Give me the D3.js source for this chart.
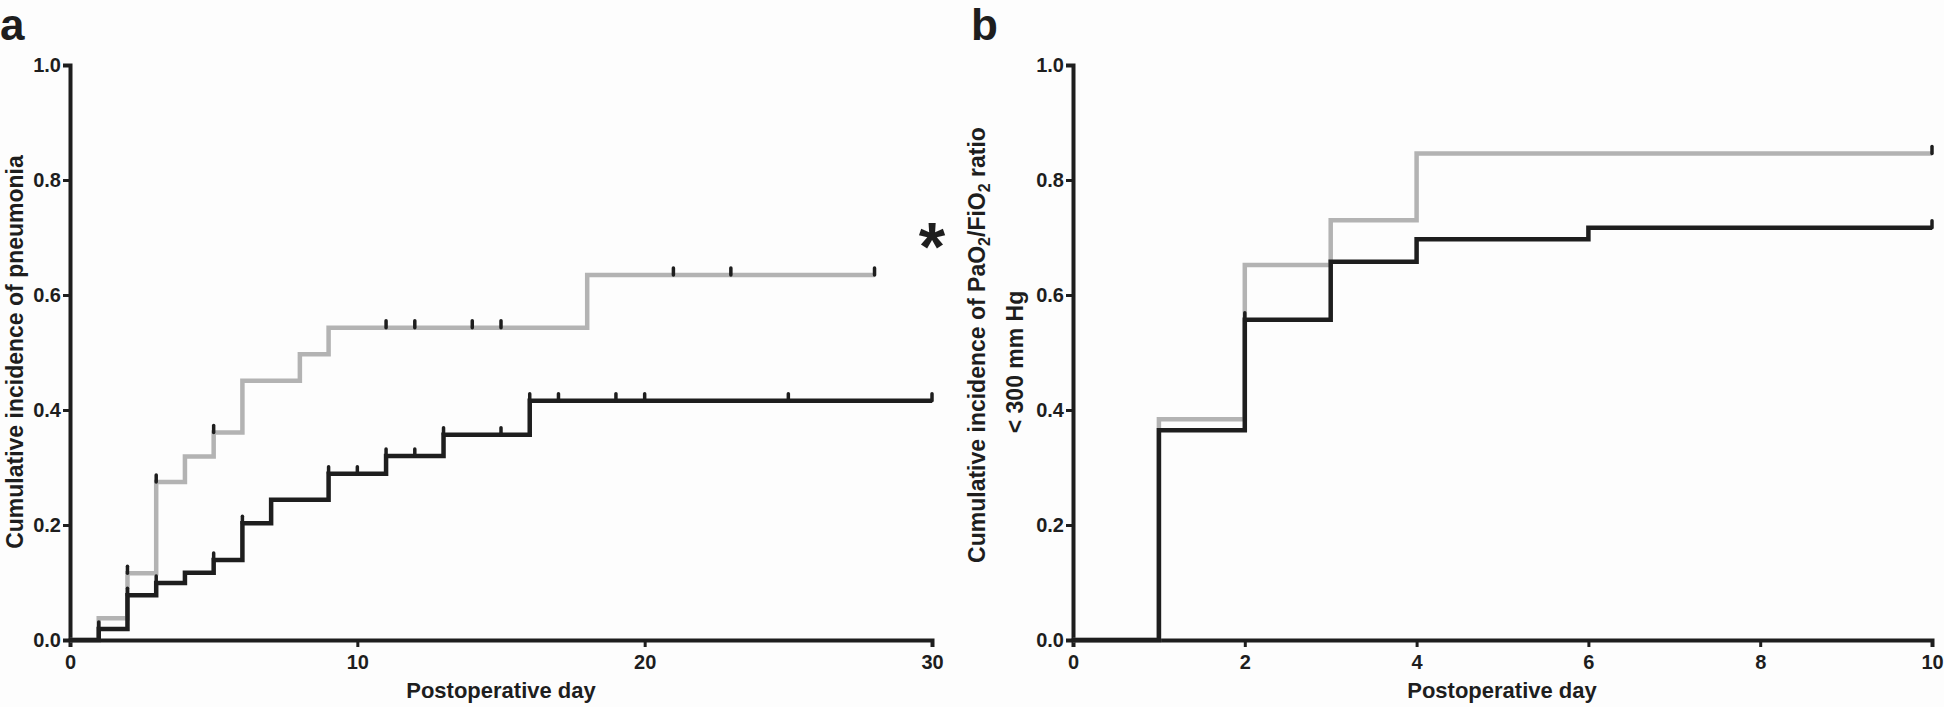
<!DOCTYPE html>
<html>
<head>
<meta charset="utf-8">
<script src="https://cdn.jsdelivr.net/npm/d3@7"></script>
<style>
  body { margin: 0; background: #fdfdfd; }
  svg { display: block; font-family: "Liberation Sans", Arial, sans-serif; }
</style>
</head>
<body>
<div class="chart"></div>
<script>
// panel a: cumulative incidence of pneumonia (step changes, day -> value)
var pneuBlackDays = [0, 1, 2, 3, 4, 5, 6, 7, 9, 11, 13, 16];
var pneuBlackVals = [0, 0.019, 0.078, 0.099, 0.117, 0.139, 0.203, 0.244, 0.289, 0.32, 0.357, 0.416];
var pneuBlackCensor = [1, 2, 3, 5, 6, 9, 10, 11, 12, 13, 15, 16, 17, 19, 20, 25, 30];

var pneuGrayDays = [0, 1, 2, 3, 4, 5, 6, 8, 9, 18];
var pneuGrayVals = [0, 0.038, 0.116, 0.275, 0.319, 0.361, 0.451, 0.497, 0.543, 0.635];
var pneuGrayCensor = [2, 3, 5, 11, 12, 14, 15, 21, 23, 28];

// panel b: PaO2/FiO2 ratio < 300 mm Hg
var pfBlackDays = [0, 1, 2, 3, 4, 6];
var pfBlackVals = [0, 0.365, 0.557, 0.658, 0.697, 0.717];
var pfBlackCensor = [2, 10];

var pfGrayDays = [0, 1, 2, 3, 4];
var pfGrayVals = [0, 0.384, 0.652, 0.730, 0.846];
var pfGrayCensor = [10];

var yTicks = [0, 0.2, 0.4, 0.6, 0.8, 1.0];
var xTicksA = [0, 10, 20, 30];
var xTicksB = [0, 2, 4, 6, 8, 10];

var BLACK = "#1e1e1e", GRAY = "#b3b3b3";

var svg = d3.select(".chart").append("svg")
	.attr("width", 1944).attr("height", 707);

var y = d3.scaleLinear().domain([0, 1]).range([640, 65]);

//value of a step curve at a given day
function valueAt(days, vals, d) {
	var i = d3.bisectRight(days, d) - 1;
	return vals[Math.max(0, i)];
}

function drawPanel(x, ticks, series) {
	var g = svg.append("g");

	var xAxis = d3.axisBottom(x).tickValues(ticks).tickSizeOuter(0).tickSize(7).tickPadding(8);
	var yAxis = d3.axisLeft(y).tickValues(yTicks).tickSizeOuter(0).tickSize(7).tickPadding(2)
		.tickFormat(d3.format(".1f"));

	var gx = g.append("g").attr("transform", "translate(0,640)").call(xAxis);
	var gy = g.append("g").attr("transform", "translate(" + x.range()[0] + ",0)").call(yAxis);

	[gx, gy].forEach(function(a) {
		a.select(".domain").attr("stroke", BLACK).attr("stroke-width", 4);
		a.selectAll(".tick line").attr("stroke", BLACK).attr("stroke-width", 3);
		a.selectAll(".tick text").attr("fill", BLACK)
			.style("font-size", "20px").style("font-weight", "bold")
			.style("font-family", "'Liberation Sans', Arial, sans-serif");
	});

	var line = d3.line()
		.x(function(d) { return x(d[0]); })
		.y(function(d) { return y(d[1]); })
		.curve(d3.curveStepAfter);

	series.forEach(function(s) {
		var end = d3.max(s.censor);
		var pts = s.days.map(function(d, i) { return [d, s.vals[i]]; });
		pts.push([end, s.vals[s.vals.length - 1]]);

		g.append("path")
			.attr("d", line(pts))
			.attr("fill", "none")
			.attr("stroke", s.color)
			.attr("stroke-width", 4.5)
			.attr("stroke-linejoin", "miter");

		g.selectAll(null)
			.data(s.censor)
			.enter().append("line")
			.attr("x1", function(d) { return x(d); })
			.attr("x2", function(d) { return x(d); })
			.attr("y1", function(d) { return y(valueAt(s.days, s.vals, d)); })
			.attr("y2", function(d) { return y(valueAt(s.days, s.vals, d)) - 7; })
			.attr("stroke", BLACK)
			.attr("stroke-width", 3.5)
			.attr("stroke-linecap", "round");
	});

	return g;
}

var xA = d3.scaleLinear().domain([0, 30]).range([70, 932]);
var xB = d3.scaleLinear().domain([0, 10]).range([1073, 1932]);

drawPanel(xA, xTicksA, [
	{days: pneuGrayDays, vals: pneuGrayVals, censor: pneuGrayCensor, color: GRAY},
	{days: pneuBlackDays, vals: pneuBlackVals, censor: pneuBlackCensor, color: BLACK}
]);

drawPanel(xB, xTicksB, [
	{days: pfGrayDays, vals: pfGrayVals, censor: pfGrayCensor, color: GRAY},
	{days: pfBlackDays, vals: pfBlackVals, censor: pfBlackCensor, color: BLACK}
]);

//titles
var title = svg.append("g").attr("fill", BLACK).style("font-weight", "bold");

title.append("text").attr("x", 0).attr("y", 40).style("font-size", "44px").text("a");
title.append("text").attr("x", 971).attr("y", 40).style("font-size", "44px").text("b");

title.append("text").attr("x", 932).attr("y", 270).attr("text-anchor", "middle")
	.style("font-size", "68px").text("*");

title.append("text").attr("x", 501).attr("y", 698).attr("text-anchor", "middle")
	.style("font-size", "22px").text("Postoperative day");
title.append("text").attr("x", 1502).attr("y", 698).attr("text-anchor", "middle")
	.style("font-size", "22px").text("Postoperative day");

title.append("text")
	.attr("transform", "translate(15,352) rotate(-90)")
	.attr("text-anchor", "middle").attr("dy", "0.36em")
	.style("font-size", "23px")
	.text("Cumulative incidence of pneumonia");

var t1 = title.append("text")
	.attr("transform", "translate(977,345) rotate(-90)")
	.attr("text-anchor", "middle").attr("dy", "0.36em")
	.style("font-size", "23px");
t1.append("tspan").text("Cumulative incidence of PaO");
t1.append("tspan").attr("dy", "5").style("font-size", "16px").text("2");
t1.append("tspan").attr("dy", "-5").text("/FiO");
t1.append("tspan").attr("dy", "5").style("font-size", "16px").text("2");
t1.append("tspan").attr("dy", "-5").text(" ratio");

title.append("text")
	.attr("transform", "translate(1015,362) rotate(-90)")
	.attr("text-anchor", "middle").attr("dy", "0.36em")
	.style("font-size", "23px")
	.text("< 300 mm Hg");
</script>
</body>
</html>
